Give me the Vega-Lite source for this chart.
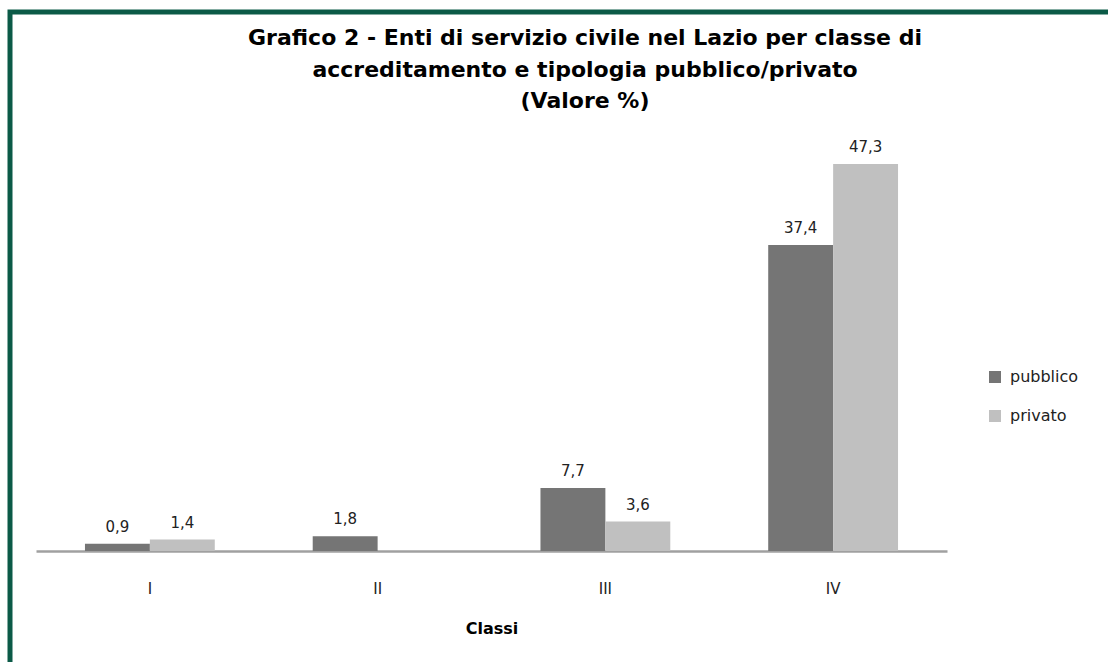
{
  "$schema": "https://vega.github.io/schema/vega-lite/v6.json",
  "autosize": "none",
  "width": 1102,
  "height": 655,
  "padding": {"left": 10, "top": 12, "right": 0, "bottom": 0},
  "background": "white",
  "title": {
    "text": ["Grafico 2 - Enti  di servizio civile nel Lazio per classe di", "accreditamento e tipologia pubblico/privato", "(Valore %)"],
    "font": "DejaVu Sans",
    "fontSize": 22,
    "fontWeight": "bold",
    "color": "black",
    "lineHeight": 31.5,
    "anchor": "middle",
    "dx": 24,
    "offset": -101,
    "baseline": "top"
  },
  "config": {
    "view": {"stroke": "#0b5a47", "strokeWidth": 5},
    "locale": {"number": {"decimal": ",", "thousands": ".", "grouping": [3], "currency": ["", " €"]}}
  },
  "data": {
    "values": [
      {"classe": "I", "tipologia": "pubblico", "valore": 0.9},
      {"classe": "I", "tipologia": "privato", "valore": 1.4},
      {"classe": "II", "tipologia": "pubblico", "valore": 1.8},
      {"classe": "III", "tipologia": "pubblico", "valore": 7.7},
      {"classe": "III", "tipologia": "privato", "valore": 3.6},
      {"classe": "IV", "tipologia": "pubblico", "valore": 37.4},
      {"classe": "IV", "tipologia": "privato", "valore": 47.3}
    ]
  },
  "encoding": {
    "x": {
      "field": "classe",
      "type": "nominal",
      "sort": ["I", "II", "III", "IV"],
      "scale": {"range": [26, 937], "paddingInner": 0.43, "paddingOuter": 0.215},
      "title": "Classi",
      "axis": {
        "orient": "bottom",
        "offset": -116,
        "domainColor": "#a0a0a0",
        "domainWidth": 2.5,
        "ticks": false,
        "grid": false,
        "labelAngle": 0,
        "labelFont": "DejaVu Sans",
        "labelFontSize": 15,
        "labelColor": "#222222",
        "labelPadding": 30,
        "titleFont": "DejaVu Sans",
        "titleFontSize": 16,
        "titleFontWeight": "bold",
        "titleColor": "black",
        "titlePadding": 24
      }
    },
    "xOffset": {
      "field": "tipologia",
      "type": "nominal",
      "sort": ["pubblico", "privato"],
      "scale": {"paddingInner": 0, "paddingOuter": 0}
    },
    "y": {
      "field": "valore",
      "type": "quantitative",
      "scale": {"domain": [0, 50], "range": [539, 130]},
      "axis": null
    }
  },
  "layer": [
    {
      "mark": {"type": "bar"},
      "encoding": {
        "color": {
          "field": "tipologia",
          "type": "nominal",
          "sort": ["pubblico", "privato"],
          "scale": {"range": ["#757575", "#c0c0c0"]},
          "legend": {
            "orient": "none",
            "legendX": 977,
            "legendY": 357,
            "title": null,
            "symbolType": "square",
            "symbolSize": 144,
            "symbolStrokeWidth": 0,
            "labelFont": "DejaVu Sans",
            "labelFontSize": 16,
            "labelColor": "#222222",
            "rowPadding": 23,
            "labelOffset": 7,
            "padding": 0
          }
        }
      }
    },
    {
      "mark": {"type": "text", "dy": -12, "baseline": "alphabetic", "font": "DejaVu Sans", "fontSize": 15, "color": "#222222"},
      "encoding": {
        "text": {"field": "valore", "type": "quantitative", "format": ".1f"}
      }
    }
  ]
}
